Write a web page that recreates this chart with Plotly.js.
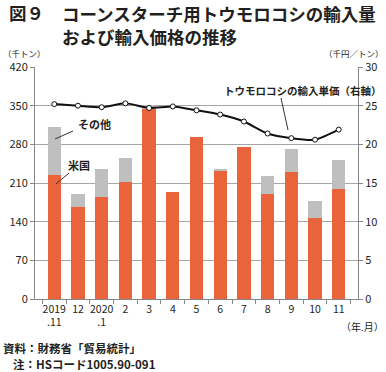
<!DOCTYPE html>
<html><head><meta charset="utf-8">
<script src="https://cdn.plot.ly/plotly-3.0.1.min.js"></script>
<style>html,body{margin:0;padding:0;background:#fff;}#chart{width:386px;height:372px;}</style>
</head><body><div id="chart"></div>
<script>
const categories = ["2019.11","2019.12","2020.1","2020.2","2020.3","2020.4","2020.5","2020.6","2020.7","2020.8","2020.9","2020.10","2020.11"];
const tickLabels = ["2019<br>.11","12","2020<br>.1","2","3","4","5","6","7","8","9","10","11"];
const usVolume = [224, 167, 185, 212, 344, 193, 294, 232, 276, 190, 230, 146, 200];
const totalVolume = [312, 190, 235, 255, 351, 193, 294, 236, 276, 222, 271, 177, 251];
const otherVolume = totalVolume.map((t, i) => t - usVolume[i]);
const unitPrice = [25.2, 25.0, 24.8, 25.3, 24.7, 24.9, 24.4, 23.85, 22.95, 21.4, 20.8, 20.6, 21.9];

const L = 35, R = 358, T = 67, B = 299;
const px = x => (x - L) / (R - L);
const py = y => (B - y) / (B - T);
const jp = '"Noto Sans CJK JP", "Noto Sans", sans-serif';
const txt = '#231f20';

const traces = [
  {type:'bar', x:categories, y:usVolume, name:'米国', marker:{color:'#e9643a'}, yaxis:'y'},
  {type:'bar', x:categories, y:otherVolume, name:'その他', marker:{color:'#bfbfbf'}, yaxis:'y'},
  {type:'scatter', mode:'lines+markers', x:categories, y:unitPrice, yaxis:'y2', name:'トウモロコシの輸入単価（右軸）',
   line:{color:'#111', width:2, shape:'spline', smoothing:0.6},
   marker:{symbol:'circle', size:5, color:'#fff', line:{color:'#111', width:1}}}
];

function ann(text, x, y, size, opts) {
  return Object.assign({text:text, xref:'paper', yref:'paper', x:px(x), y:py(y), showarrow:false,
    xanchor:'left', yanchor:'middle', font:{family:jp, size:size, color:txt}}, opts || {});
}
const boldSmall = s => ({family:jp, size:s, color:txt, weight:'bold'});
const titleFont = {family:jp, size:17.5, color:txt, weight:'bold'};

const layout = {
  width:386, height:372,
  margin:{l:L, r:386-R, t:T, b:372-B, pad:0},
  paper_bgcolor:'#fff', plot_bgcolor:'#fff',
  showlegend:false,
  barmode:'stack', bargap:0.44,
  font:{family:jp, size:11, color:txt},
  xaxis:{type:'category', tickvals:categories, ticktext:tickLabels, tickson:'boundaries', tickangle:0,
    ticks:'outside', ticklen:4, tickcolor:'#888', showline:true, linecolor:'#888', linewidth:1,
    showgrid:false, tickfont:{family:jp, size:10.5, color:txt}, fixedrange:true},
  yaxis:{range:[0,420], tickvals:[0,70,140,210,280,350,420], showgrid:true, gridcolor:'#a6a6a6', gridwidth:1,
    zeroline:false, showline:true, linecolor:'#888', ticks:'outside', ticklen:4, tickcolor:'#888',
    tickfont:{family:jp, size:11, color:txt}},
  yaxis2:{range:[0,30], tickvals:[0,5,10,15,20,25,30], overlaying:'y', side:'right', showgrid:false,
    zeroline:false, showline:true, linecolor:'#888', ticks:'outside', ticklen:4, tickcolor:'#888',
    tickfont:{family:jp, size:11, color:txt}},
  annotations:[
    ann('図９', 7, 12, 17.5, {font:titleFont}),
    ann('コーンスターチ用トウモロコシの輸入量<br>および輸入価格の推移', 60, -1, 17.5,
        {yanchor:'top', align:'left', font:titleFont}),
    ann('（千トン）', 1, 53, 8.5),
    ann('（千円／トン）', 386, 53, 8.5, {xanchor:'right'}),
    ann('（年.月）', 386, 326, 10, {xanchor:'right'}),
    ann('資料：財務省「貿易統計」', 1, 348, 11.5, {font:boldSmall(11.5)}),
    ann('注：HSコード1005.90-091', 11, 364, 11.5, {font:boldSmall(11.5)}),
    ann('その他', 76, 124, 11, {font:boldSmall(11)}),
    ann('米国', 66, 165, 11, {font:boldSmall(11)}),
    ann('トウモロコシの輸入単価（右軸）', 222, 90, 10.5, {font:boldSmall(10.5)})
  ],
  shapes:[
    {type:'line', xref:'paper', yref:'paper', x0:px(55), y0:py(139), x1:px(73), y1:py(131), line:{color:'#333', width:1}},
    {type:'line', xref:'paper', yref:'paper', x0:px(56), y0:py(184), x1:px(69), y1:py(173), line:{color:'#333', width:1}},
    {type:'line', xref:'paper', yref:'paper', x0:px(281), y0:py(98), x1:px(288), y1:py(130), line:{color:'#333', width:1}}
  ]
};

Plotly.newPlot('chart', traces, layout, {staticPlot:true, displayModeBar:false});
</script></body></html>
